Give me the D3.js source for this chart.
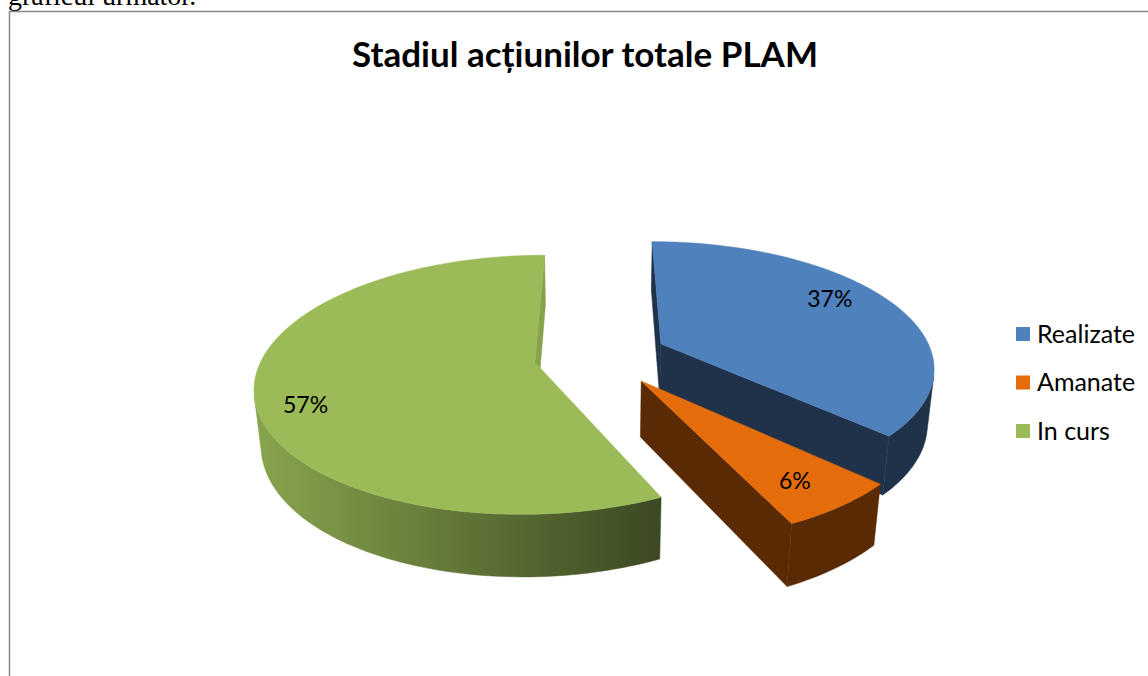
<!DOCTYPE html>
<html>
<head>
<meta charset="utf-8">
<script src="https://cdn.jsdelivr.net/npm/d3@7"></script>
<style>
  body { margin: 0; background: #fff; }
  svg { display: block; }
</style>
</head>
<body>
<div id="chart"></div>
<script>
const chartTitle = "Stadiul acțiunilor totale PLAM";
const categories = ["Realizate", "Amanate", "In curs"];
const values = [37, 6, 57];
const percentLabels = ["37%", "6%", "57%"];
const colors = ["#4f81bd", "#e46c0a", "#9bbb59"];

const width = 1148;
const height = 676;

// 3D view (pie radius = 1)
const tilt = 27 * Math.PI / 180;
const sinT = Math.sin(tilt), cosT = Math.cos(tilt);
const camDist = 5.207;
const focal = 1415.8;
const cx = 600.6, cy = 355.7;
const thick = 0.23;
const explode = 0.2455;
const labelRadius = [0.8, 0.81, 0.84];
const labelTurn = [-7, 1, -10]; // degrees, label placement inside each slice
const cam = [0, camDist * cosT, camDist * sinT];

function project(u, v, w) {
  const z = camDist - v * cosT - w * sinT;
  return [cx + focal * u / z, cy + focal * (v * sinT - w * cosT) / z];
}
function facing(n, q) {
  return n[0] * (cam[0] - q[0]) + n[1] * (cam[1] - q[1]) + n[2] * (cam[2] - q[2]) > 0;
}

const svg = d3.select("#chart").append("svg")
  .attr("width", width)
  .attr("height", height);

// text from the page above the chart, cut by the top edge
svg.append("text")
  .attr("x", 8)
  .attr("y", 5)
  .attr("font-family", "Liberation Serif, serif")
  .attr("font-size", 28)
  .text("graficul următor.");

svg.append("rect")
  .attr("x", 9.5).attr("y", 11.5)
  .attr("width", 1160).attr("height", 700)
  .attr("fill", "#fff")
  .attr("stroke", "#878787")
  .attr("stroke-width", 1.5);

svg.append("text")
  .attr("x", 585)
  .attr("y", 67)
  .attr("text-anchor", "middle")
  .attr("font-family", "Lato, sans-serif")
  .attr("font-weight", "bold")
  .attr("font-size", 35)
  .text(chartTitle);

// side shading: lighter on the left, darker to the right
const shade = d3.scaleLinear().domain([260, 660]).range([0.87, 0.39]).clamp(true);
const radialShade = d3.scaleLinear().domain([-0.5, 1]).range([0.39, 0.87]).clamp(true);
const darken = (c, k) => d3.interpolateRgb("#000", c)(k);

const defs = svg.append("defs");
colors.forEach((c, i) => {
  const g = defs.append("linearGradient")
    .attr("id", "side" + i)
    .attr("gradientUnits", "userSpaceOnUse")
    .attr("x1", 260).attr("x2", 660).attr("y1", 0).attr("y2", 0);
  shade.domain().forEach((x, k) => {
    g.append("stop")
      .attr("offset", k)
      .attr("stop-color", darken(c, shade(x)));
  });
});

const pie = d3.pie().sort(null).startAngle(0).endAngle(2 * Math.PI);
const arcs = pie(values).map((d, i) => {
  const mid = (d.startAngle + d.endAngle) / 2;
  return { ...d, i, mid, off: [explode * Math.sin(mid), -explode * Math.cos(mid)] };
});

const line = d3.line();
const path = pts => line(pts) + "Z";

// far slices first
const order = arcs.slice().sort((a, b) => a.off[1] - b.off[1]);
const gPie = svg.append("g");

order.forEach(d => {
  const g = gPie.append("g");
  const o = d.off;
  const rim = (t, w) => project(o[0] + Math.sin(t), o[1] - Math.cos(t), w);
  const center = w => project(o[0], o[1], w);
  const sideFill = `url(#side${d.i})`;

  // radial faces
  [[d.startAngle, -1], [d.endAngle, 1]].forEach(([a, s]) => {
    const n = [s * Math.cos(a), s * Math.sin(a), 0];
    const q = [o[0] + 0.5 * Math.sin(a), o[1] - 0.5 * Math.cos(a), -thick / 2];
    if (!facing(n, q)) return;
    const fill = darken(colors[d.i], radialShade(n[0]));
    g.append("path")
      .attr("d", path([center(0), rim(a, 0), rim(a, -thick), center(-thick)]))
      .attr("fill", fill)
      .attr("stroke", fill)
      .attr("stroke-width", 0.5);
  });

  // outer wall, visible runs only
  const steps = Math.max(2, Math.ceil((d.endAngle - d.startAngle) / (Math.PI / 120)));
  const ts = d3.range(steps + 1).map(k => d.startAngle + (d.endAngle - d.startAngle) * k / steps);
  let run = [];
  const flush = () => {
    if (run.length > 1) {
      const pts = run.map(t => rim(t, 0)).concat(run.slice().reverse().map(t => rim(t, -thick)));
      g.append("path")
        .attr("d", path(pts))
        .attr("fill", sideFill)
        .attr("stroke", sideFill)
        .attr("stroke-width", 0.5);
    }
    run = [];
  };
  for (let k = 0; k < steps; k++) {
    const t = (ts[k] + ts[k + 1]) / 2;
    const n = [Math.sin(t), -Math.cos(t), 0];
    const q = [o[0] + Math.sin(t), o[1] - Math.cos(t), -thick / 2];
    if (facing(n, q)) {
      if (!run.length) run.push(ts[k]);
      run.push(ts[k + 1]);
    } else flush();
  }
  flush();

  // top face
  g.append("path")
    .attr("d", path([center(0)].concat(ts.map(t => rim(t, 0)))))
    .attr("fill", colors[d.i])
    .attr("stroke", colors[d.i])
    .attr("stroke-width", 0.5);
});

// percentage labels on the top faces
arcs.forEach(d => {
  const a = d.mid + labelTurn[d.i] * Math.PI / 180;
  const r = labelRadius[d.i];
  const p = project(d.off[0] + r * Math.sin(a), d.off[1] - r * Math.cos(a), 0);
  svg.append("text")
    .attr("x", p[0])
    .attr("y", p[1])
    .attr("dy", "0.35em")
    .attr("text-anchor", "middle")
    .attr("font-family", "Lato, sans-serif")
    .attr("font-size", 23)
    .attr("fill", "#000")
    .text(percentLabels[d.i]);
});

// legend
const legendY = d3.scalePoint().domain(categories).range([334, 431]);
const legend = svg.append("g")
  .selectAll("g")
  .data(categories)
  .join("g")
  .attr("transform", c => `translate(1016,${legendY(c)})`);

legend.append("rect")
  .attr("x", 0).attr("y", -7)
  .attr("width", 14).attr("height", 14)
  .attr("fill", (c, i) => colors[i]);

legend.append("text")
  .attr("x", 21)
  .attr("dy", "0.35em")
  .attr("font-family", "Lato, sans-serif")
  .attr("font-size", 25)
  .attr("fill", "#000")
  .text(c => c);
</script>
</body>
</html>
